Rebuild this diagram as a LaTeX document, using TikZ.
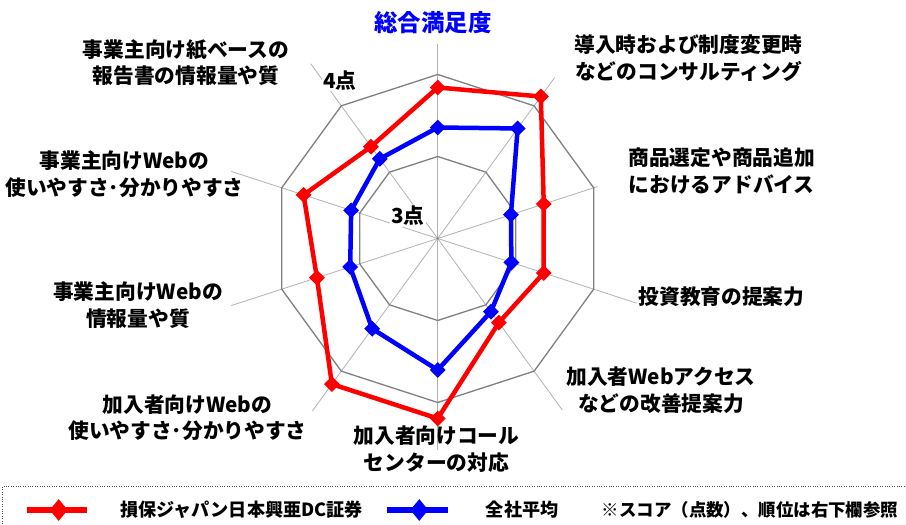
\documentclass[tikz,border=0pt]{standalone}
\usepackage{fontspec}
\setmainfont{Noto Sans CJK JP}
\usetikzlibrary{shapes.geometric}
\definecolor{cred}{HTML}{FF0000}
\definecolor{cblue}{HTML}{0000FF}
\begin{document}
\begin{tikzpicture}[x=1bp,y=1bp,
  lbl/.style={font=\bfseries\fontsize{20.8}{26.5}\selectfont, align=center, inner sep=0pt, text=black},
  lgd/.style={font=\bfseries\fontsize{18.2}{20}\selectfont, anchor=west, inner sep=0pt},
  axisline/.style={draw=black!30, line width=0.8bp},
  ringline/.style={draw=black!50, line width=1.3bp},
  redline/.style={draw=cred, line width=4.5bp, line join=miter},
  blueline/.style={draw=cblue, line width=4.5bp, line join=miter},
  reddia/.style={shape=diamond, fill=cred, inner sep=0pt, minimum size=16bp},
  bluedia/.style={shape=diamond, fill=cblue, inner sep=0pt, minimum size=16bp},
  lgddia/.style={shape=diamond, inner sep=0pt, minimum width=18bp, minimum height=22bp}]
\useasboundingbox (-437.7,-286.5) rectangle (468.3,238.5);
\fill[white] (-437.7,-286.5) rectangle (468.3,238.5);
% axes
\coordinate (c) at (0,0);
\foreach \k/\L in {0/194,1/199,2/168,3/209,4/212,5/212,6/213,7/217,8/217,9/216}
  \draw[axisline] (c) -- ({90-36*\k}:\L);
% rings
\draw[ringline] (90:164) \foreach \k in {1,...,9}{ -- ({90-36*\k}:164)} -- cycle;
\draw[ringline] (90:82) \foreach \k in {1,...,9}{ -- ({90-36*\k}:82)} -- cycle;
\fill[black!50] (c) circle (1.2bp);
% scale labels
\node[lbl, fill=white, inner sep=1bp] (p4) at (-97.7,157.8) {4点};
\node[lbl, fill=white, inner sep=1bp] (p3) at (-29.7,22.5) {3点};
% blue series
\draw[blueline] (90:111) -- (54:136) -- (18:77) -- (-18:77.5) -- (-54:90.5) -- (-90:131.5) -- (-126:111.5) -- (-162:92) -- (162:91) -- (126:98.5) -- cycle;
\foreach \a/\r in {90/111,54/136,18/77,-18/77.5,-54/90.5,-90/131.5,-126/111.5,-162/92,162/91,126/98.5}
  \node[bluedia] at (\a:\r) {};
% red series
\draw[redline] (90:151) -- (54:175.5) -- (18:111.5) -- (-18:111.5) -- (-54:104) -- (-90:180) -- (-126:180) -- (-162:127) -- (162:141) -- (126:113.5) -- cycle;
\foreach \a/\r in {90/151,54/175.5,18/111.5,-18/111.5,-54/104,-90/180,-126/180,-162/127,162/141,126/113.5}
  \node[reddia] at (\a:\r) {};
% title and category labels
\node[lbl, text=cblue, font=\bfseries\fontsize{23.5}{26}\selectfont] (title) at (-4.7,215.5) {総合満足度};
\node[lbl] (l1) at (-251.7,176) {事業主向け紙ベースの\\報告書の情報量や質};
\node[lbl] (l2) at (250.8,180.5) {導入時および制度変更時\\などのコンサルティング};
\node[lbl] (l3) at (284,67.5) {商品選定や商品追加\\におけるアドバイス};
\node[lbl] (l4) at (283.8,-58.2) {投資教育の提案力};
\node[lbl] (l5) at (223.3,-151.5) {加入者Webアクセス\\などの改善提案力};
\node[lbl] (l6) at (-1.2,-210.5) {加入者向けコール\\センターの対応};
\node[lbl] (l7) at (-250.2,-179.5) {加入者向けWebの\\使いやすさ･分かりやすさ};
\node[lbl] (l8) at (-299.7,-66.5) {事業主向けWebの\\情報量や質};
\node[lbl] (l9) at (-313.2,64.5) {事業主向けWebの\\使いやすさ･分かりやすさ};
% legend
\draw[black!70, line width=1bp, dash pattern=on 1bp off 1.4bp] (-435,-300) -- (-435,-248.2) -- (480,-248.2);
\coordinate (ra) at (-411,-271.5);
\coordinate (rb) at (-350.4,-271.5);
\draw[draw=cred, line width=6bp] (ra) -- (rb);
\node[lgddia, fill=cred] (rd) at (-379,-271.5) {};
\node[lgd] (rt) at (-317.7,-271.5) {損保ジャパン日本興亜DC証券};
\coordinate (ba) at (-50.4,-271.5);
\coordinate (bb) at (10,-271.5);
\draw[draw=cblue, line width=6bp] (ba) -- (bb);
\node[lgddia, fill=cblue] (bd) at (-18.4,-271.5) {};
\node[lgd] (bt) at (48,-271.5) {全社平均};
\node[lgd, font=\bfseries\fontsize{17.5}{20}\selectfont] (nt) at (164,-271.5) {※スコア（点数）、順位は右下欄参照};
\end{tikzpicture}
\end{document}
